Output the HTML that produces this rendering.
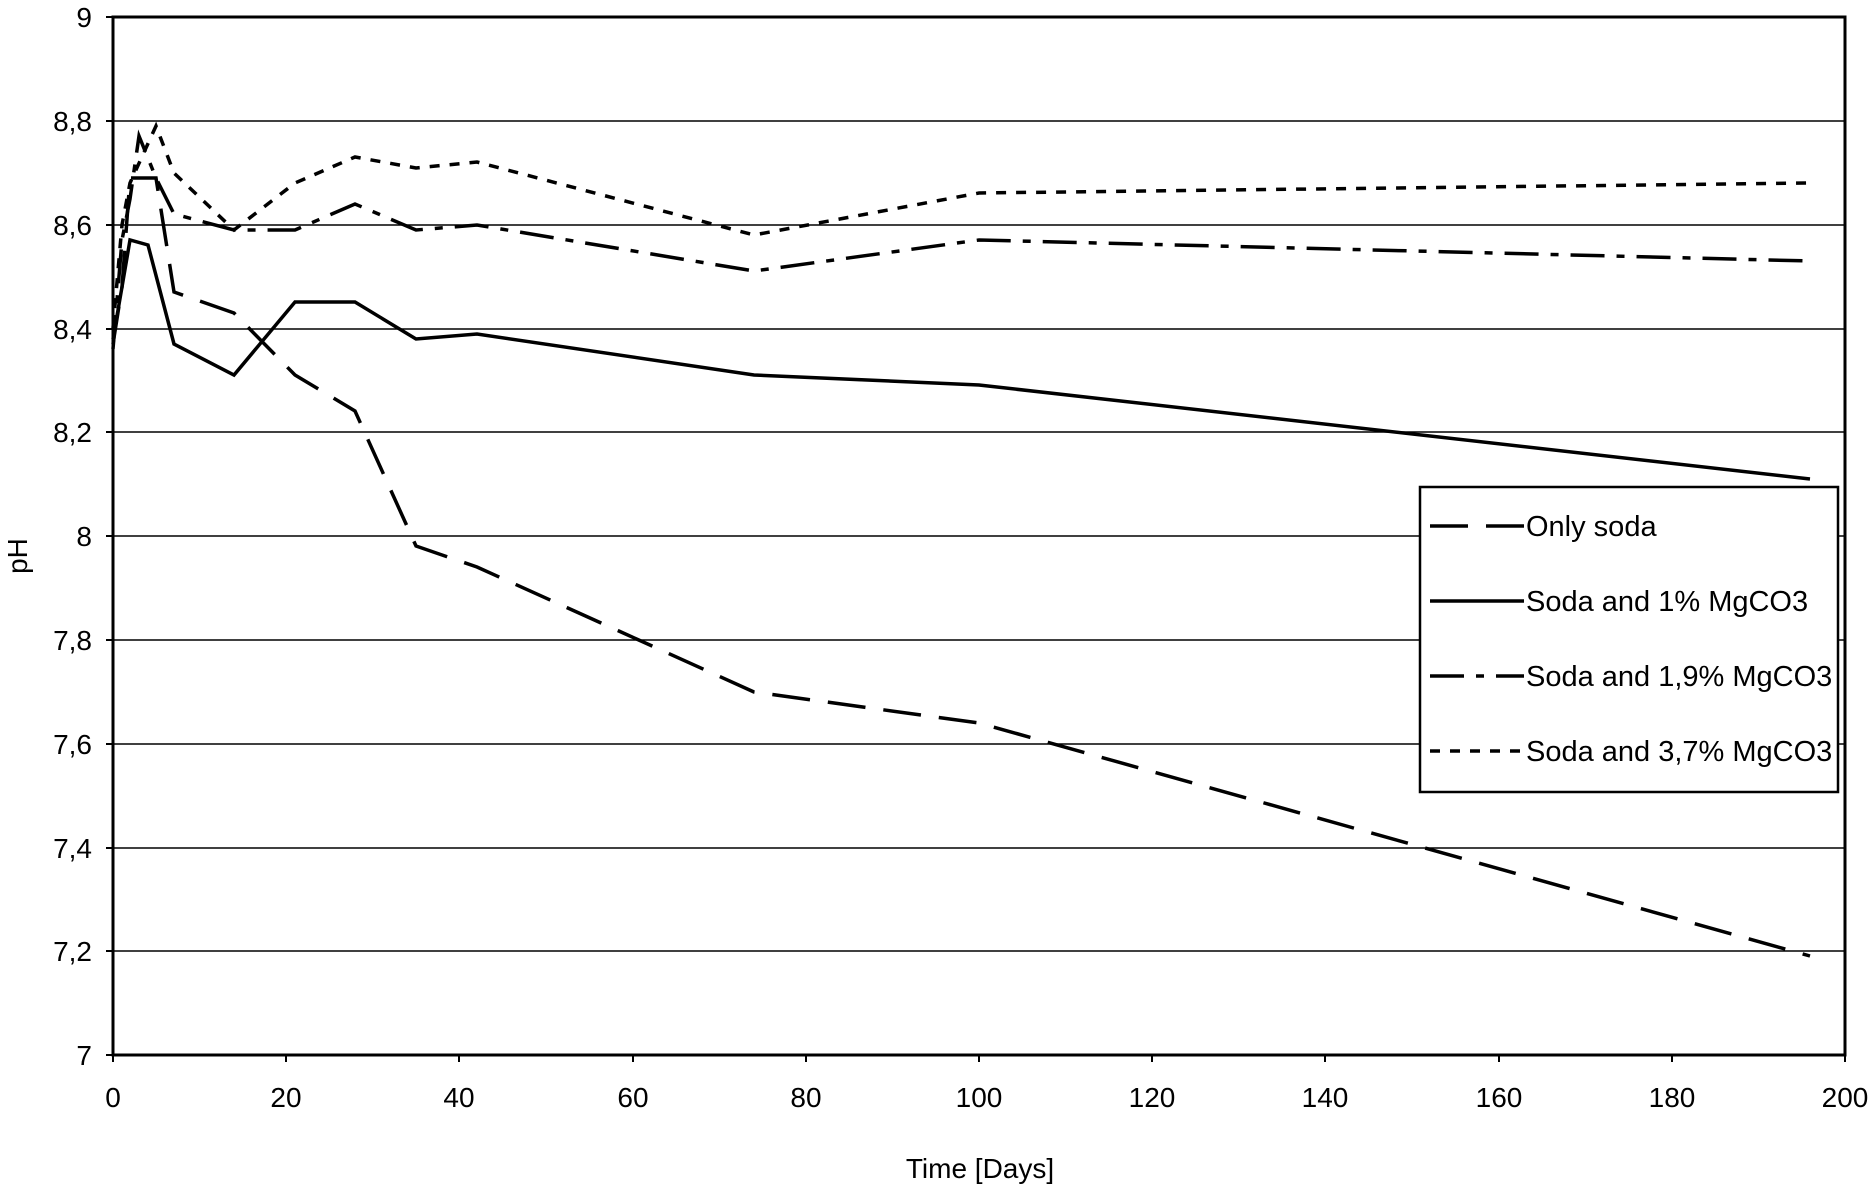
<!DOCTYPE html>
<html><head><meta charset="utf-8"><style>body{margin:0;background:#fff}svg{display:block}text{font-family:"Liberation Sans",sans-serif;fill:#000}</style></head><body>
<svg width="1875" height="1191" viewBox="0 0 1875 1191" xmlns="http://www.w3.org/2000/svg">
<g stroke="#000" stroke-width="1.5">
<line x1="113" y1="121" x2="1845" y2="121"/><line x1="113" y1="225" x2="1845" y2="225"/>
<line x1="113" y1="329" x2="1845" y2="329"/><line x1="113" y1="432" x2="1845" y2="432"/>
<line x1="113" y1="536" x2="1845" y2="536"/><line x1="113" y1="640" x2="1845" y2="640"/>
<line x1="113" y1="744" x2="1845" y2="744"/><line x1="113" y1="848" x2="1845" y2="848"/>
<line x1="113" y1="951" x2="1845" y2="951"/>
</g>
<rect x="113" y="17" width="1732" height="1038" fill="none" stroke="#000" stroke-width="3"/>
<g stroke="#000" stroke-width="2">
<line x1="106" y1="17" x2="113" y2="17"/><line x1="106" y1="121" x2="113" y2="121"/><line x1="106" y1="225" x2="113" y2="225"/><line x1="106" y1="329" x2="113" y2="329"/><line x1="106" y1="432" x2="113" y2="432"/><line x1="106" y1="536" x2="113" y2="536"/><line x1="106" y1="640" x2="113" y2="640"/><line x1="106" y1="744" x2="113" y2="744"/><line x1="106" y1="848" x2="113" y2="848"/><line x1="106" y1="951" x2="113" y2="951"/><line x1="106" y1="1055" x2="113" y2="1055"/>
<line x1="113" y1="1055" x2="113" y2="1062"/><line x1="286" y1="1055" x2="286" y2="1062"/><line x1="459" y1="1055" x2="459" y2="1062"/><line x1="633" y1="1055" x2="633" y2="1062"/><line x1="806" y1="1055" x2="806" y2="1062"/><line x1="979" y1="1055" x2="979" y2="1062"/><line x1="1152" y1="1055" x2="1152" y2="1062"/><line x1="1325" y1="1055" x2="1325" y2="1062"/><line x1="1499" y1="1055" x2="1499" y2="1062"/><line x1="1672" y1="1055" x2="1672" y2="1062"/><line x1="1845" y1="1055" x2="1845" y2="1062"/>
</g>
<g font-size="28" text-anchor="end">
<text x="92" y="27">9</text><text x="92" y="131">8,8</text><text x="92" y="235">8,6</text><text x="92" y="339">8,4</text><text x="92" y="442">8,2</text><text x="92" y="546">8</text><text x="92" y="650">7,8</text><text x="92" y="754">7,6</text><text x="92" y="858">7,4</text><text x="92" y="961">7,2</text><text x="92" y="1065">7</text>
</g>
<g font-size="28" text-anchor="middle">
<text x="113" y="1107">0</text><text x="286" y="1107">20</text><text x="459" y="1107">40</text><text x="633" y="1107">60</text><text x="806" y="1107">80</text><text x="979" y="1107">100</text><text x="1152" y="1107">120</text><text x="1325" y="1107">140</text><text x="1499" y="1107">160</text><text x="1672" y="1107">180</text><text x="1845" y="1107">200</text>
<text x="980" y="1178">Time [Days]</text>
<text transform="translate(27,556) rotate(-90)">pH</text>
</g>
<g fill="none" stroke="#000" stroke-width="3.5">
<polyline stroke-dasharray="38,18" points="113,344 122,287 130,178 139,178 156,178 174,292 234,313 295,375 355,411 416,546 477,567 754,692 979,723 1810,956"/>
<polyline points="113,339 122,287 130,240 148,245 174,344 234,375 295,302 355,302 416,339 477,334 754,375 979,385 1810,479"/>
<polyline stroke-dasharray="34,12,8,12" points="113,349 122,240 130,199 139,136 156,178 174,214 234,230 295,230 355,204 416,230 477,225 754,271 979,240 1810,261"/>
<polyline stroke-dasharray="10,10" points="113,328 122,225 130,183 156,126 174,173 234,230 295,183 355,157 416,168 477,162 754,235 979,193 1810,183"/>
</g>
<rect x="1420" y="487" width="418" height="305" fill="#fff" stroke="#000" stroke-width="2.5"/>
<g fill="none" stroke="#000" stroke-width="3.5">
<line x1="1430" y1="526" x2="1524" y2="526" stroke-dasharray="38,18"/>
<line x1="1430" y1="601" x2="1524" y2="601"/>
<line x1="1430" y1="676" x2="1524" y2="676" stroke-dasharray="34,12,8,12"/>
<line x1="1430" y1="751" x2="1524" y2="751" stroke-dasharray="10,10"/>
</g>
<g font-size="29">
<text x="1526" y="536">Only soda</text><text x="1526" y="611">Soda and 1% MgCO3</text><text x="1526" y="686">Soda and 1,9% MgCO3</text><text x="1526" y="761">Soda and 3,7% MgCO3</text>
</g>
</svg>
</body></html>
